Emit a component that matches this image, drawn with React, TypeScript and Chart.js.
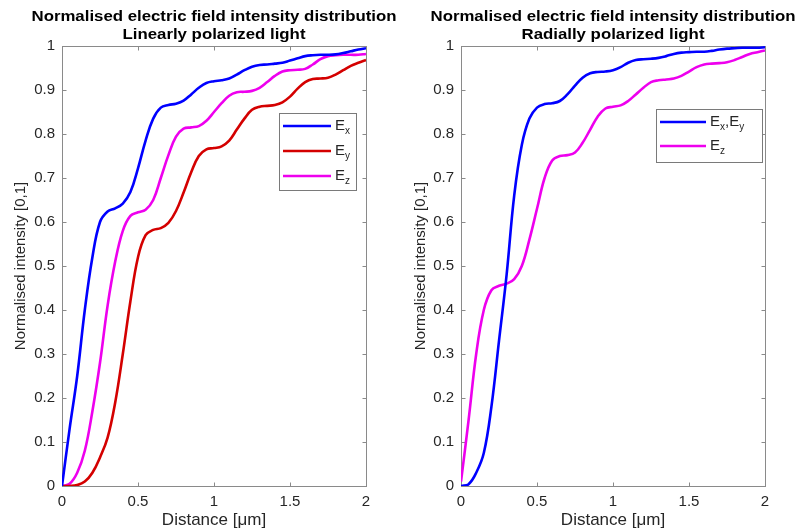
import React, { useEffect, useRef } from 'react';
import { Chart, registerables } from 'chart.js';
Chart.register(...registerables);

// ---------- data ----------
const distance = [
  0, 0.05, 0.1, 0.15, 0.2, 0.25, 0.3, 0.35, 0.4, 0.45,
  0.5, 0.55, 0.6, 0.65, 0.7, 0.75, 0.8, 0.85, 0.9, 0.95,
  1.0, 1.05, 1.1, 1.15, 1.2, 1.25, 1.3, 1.35, 1.4, 1.45,
  1.5, 1.55, 1.6, 1.65, 1.7, 1.75, 1.8, 1.85, 1.9, 1.95, 2.0,
];

// Linearly polarized light
const linearEx = [
  0, 0.13, 0.25, 0.4, 0.52, 0.6, 0.624, 0.631, 0.642, 0.668,
  0.722, 0.785, 0.835, 0.86, 0.866, 0.869, 0.876, 0.89, 0.905, 0.916,
  0.92, 0.922, 0.926, 0.935, 0.945, 0.953, 0.957, 0.958, 0.96, 0.962,
  0.967, 0.972, 0.977, 0.979, 0.98, 0.98, 0.981, 0.984, 0.988, 0.992, 0.995,
];
const linearEy = [
  0, 0, 0.002, 0.01, 0.03, 0.065, 0.11, 0.19, 0.3, 0.42,
  0.52, 0.57, 0.582, 0.586, 0.598, 0.625, 0.667, 0.713, 0.75, 0.765,
  0.768, 0.772, 0.785, 0.81, 0.835, 0.855, 0.862, 0.864, 0.866, 0.872,
  0.885, 0.903, 0.918, 0.925, 0.926, 0.928, 0.935, 0.945, 0.955, 0.962, 0.968,
];
const linearEz = [
  0, 0.005, 0.03, 0.08, 0.17, 0.28, 0.41, 0.51, 0.58, 0.614,
  0.622, 0.628, 0.65, 0.7, 0.752, 0.794, 0.812, 0.815, 0.818, 0.83,
  0.85, 0.87, 0.887, 0.895, 0.896, 0.898, 0.905, 0.918, 0.932, 0.942,
  0.945, 0.946, 0.948, 0.958, 0.97, 0.977, 0.979, 0.98, 0.98, 0.98, 0.982,
];

// Radially polarized light
const radialExEy = [
  0, 0.004, 0.03, 0.075, 0.18, 0.33, 0.48, 0.66, 0.775, 0.835,
  0.86, 0.868, 0.87, 0.875, 0.89, 0.91, 0.928, 0.938, 0.941, 0.942,
  0.945, 0.952, 0.962, 0.968, 0.97, 0.971, 0.973, 0.977, 0.982, 0.985,
  0.986, 0.987, 0.987, 0.989, 0.992, 0.994, 0.995, 0.996, 0.996, 0.996, 0.997,
];
const radialEz = [
  0.01, 0.15, 0.3, 0.4, 0.445, 0.455, 0.46, 0.47, 0.5, 0.56,
  0.63, 0.7, 0.74, 0.75, 0.752, 0.758, 0.78, 0.81, 0.84, 0.858,
  0.862, 0.865, 0.875, 0.89, 0.905, 0.918, 0.922, 0.924, 0.926, 0.932,
  0.942, 0.952, 0.958, 0.96, 0.961, 0.963, 0.968, 0.975, 0.982, 0.986, 0.99,
];

const titleLine1 = 'Normalised electric field intensity distribution';
const leftSubtitle = 'Linearly polarized light';
const rightSubtitle = 'Radially polarized light';
const xAxisTitle = 'Distance [\u03bcm]';
const yAxisTitle = 'Normalised intensity [0,1]';

type Seg = { t: string; sub?: boolean };
const legendEx: Seg[] = [{ t: 'E' }, { t: 'x', sub: true }];
const legendEy: Seg[] = [{ t: 'E' }, { t: 'y', sub: true }];
const legendEz: Seg[] = [{ t: 'E' }, { t: 'z', sub: true }];
const legendExEy: Seg[] = [{ t: 'E' }, { t: 'x', sub: true }, { t: ',E' }, { t: 'y', sub: true }];

const BLUE = '#0000ff';
const RED = '#d40000';
const MAGENTA = '#ee00ee';
const FONT = "'Liberation Sans', Arial, Helvetica, sans-serif";
const TEXT = '#262626';
const AXIS = '#8a8a8a';

const toPoints = (ys: number[]) => distance.map((x, i) => ({ x, y: ys[i] }));
const fmt = (v: any) => String(Number(v));

type LegendEntry = { color: string; label: Seg[] };
type PanelCfg = {
  width: number;
  subtitle: string;
  series: { color: string; values: number[]; label: string }[];
  legend: LegendEntry[];
  legendBox: { x: number; y: number; w: number; h: number };
  yWidth: number;
  padRight: number;
};

const boxPlugin = {
  id: 'matlabBox',
  beforeDatasetsDraw(chart: any) {
    const { ctx, chartArea: a, scales } = chart;
    ctx.save();
    ctx.strokeStyle = AXIS;
    ctx.lineWidth = 1;
    const L = Math.round(a.left) + 0.5;
    const R = Math.round(a.right) + 0.5;
    const T = Math.round(a.top) + 0.5;
    const B = Math.round(a.bottom) + 0.5;
    ctx.strokeRect(L, T, R - L, B - T);
    const tl = 4;
    ctx.beginPath();
    scales.x.ticks.forEach((t: any) => {
      const px = Math.round(scales.x.getPixelForValue(t.value)) + 0.5;
      ctx.moveTo(px, B); ctx.lineTo(px, B - tl);
      ctx.moveTo(px, T); ctx.lineTo(px, T + tl);
    });
    scales.y.ticks.forEach((t: any) => {
      const py = Math.round(scales.y.getPixelForValue(t.value)) + 0.5;
      ctx.moveTo(L, py); ctx.lineTo(L + tl, py);
      ctx.moveTo(R, py); ctx.lineTo(R - tl, py);
    });
    ctx.stroke();
    ctx.restore();
  },
  afterDraw(chart: any, _args: any, opts: any) {
    const { ctx, chartArea: a } = chart;
    ctx.save();
    // titles (slightly wide, as in the reference)
    const cx = (a.left + a.right) / 2;
    ctx.fillStyle = '#000';
    ctx.font = `bold 14px ${FONT}`;
    ctx.textAlign = 'center';
    ctx.textBaseline = 'middle';
    [[titleLine1, 17], [opts.subtitle, 35]].forEach(([txt, y]: any) => {
      ctx.save();
      ctx.translate(cx, y);
      ctx.scale(1.2, 1);
      ctx.fillText(txt, 0, 0);
      ctx.restore();
    });

    // legend
    const b = opts.legendBox;
    ctx.fillStyle = '#fff';
    ctx.fillRect(b.x, b.y, b.w, b.h);
    ctx.strokeStyle = '#7a7a7a';
    ctx.lineWidth = 1;
    ctx.strokeRect(b.x + 0.5, b.y + 0.5, b.w, b.h);
    const entries: LegendEntry[] = opts.entries;
    const rowH = opts.rowH;
    entries.forEach((e, i) => {
      const y = b.y + opts.firstRow + i * rowH;
      ctx.strokeStyle = e.color;
      ctx.lineWidth = 2.5;
      ctx.beginPath();
      ctx.moveTo(b.x + 4, y);
      ctx.lineTo(b.x + 4 + opts.lineLen, y);
      ctx.stroke();
      let tx = b.x + 4 + opts.lineLen + 4;
      ctx.fillStyle = TEXT;
      ctx.textAlign = 'left';
      ctx.textBaseline = 'middle';
      e.label.forEach((s) => {
        ctx.font = s.sub ? `10px ${FONT}` : `15px ${FONT}`;
        ctx.fillText(s.t, tx, s.sub ? y + 5 : y);
        tx += ctx.measureText(s.t).width;
      });
    });
    ctx.restore();
  },
};

function Panel({ cfg }: { cfg: PanelCfg }) {
  const ref = useRef<HTMLCanvasElement>(null);
  useEffect(() => {
    if (!ref.current) return;
    const chart = new Chart(ref.current, {
      type: 'line',
      data: {
        datasets: cfg.series.map((s) => ({
          label: s.label,
          data: toPoints(s.values),
          borderColor: s.color,
          backgroundColor: s.color,
          borderWidth: 2.6,
          pointRadius: 0,
          tension: 0.4,
          fill: false,
        })),
      },
      options: {
        responsive: false,
        animation: false,
        devicePixelRatio: 1,
        layout: { padding: { top: 46, left: 0, right: cfg.padRight, bottom: 0 } },
        plugins: {
          legend: { display: false },
          tooltip: { enabled: false },
          title: { display: false },
          matlabBox: {
            subtitle: cfg.subtitle,
            entries: cfg.legend,
            legendBox: cfg.legendBox,
            rowH: cfg.legend.length === 3 ? 25 : 24,
            firstRow: 13,
            lineLen: cfg.legend.length === 3 ? 48 : 46,
          },
        } as any,
        scales: {
          x: {
            type: 'linear',
            min: 0,
            max: 2,
            ticks: {
              stepSize: 0.5,
              padding: 7,
              color: TEXT,
              font: { family: FONT, size: 15 },
              maxRotation: 0,
              callback: fmt,
            },
            grid: { display: false, drawTicks: false },
            border: { display: false },
            title: {
              display: true,
              text: xAxisTitle,
              color: TEXT,
              font: { family: FONT, size: 17 },
              padding: { top: 0, bottom: 0 },
            },
            afterFit: (s: any) => { s.height = 45; },
          },
          y: {
            type: 'linear',
            min: 0,
            max: 1,
            ticks: {
              stepSize: 0.1,
              padding: 7,
              color: TEXT,
              font: { family: FONT, size: 15 },
              callback: fmt,
            },
            grid: { display: false, drawTicks: false },
            border: { display: false },
            title: {
              display: true,
              text: yAxisTitle,
              color: TEXT,
              font: { family: FONT, size: 15 },
              padding: { top: 12, bottom: 0 },
            },
            afterFit: (s: any) => { s.width = cfg.yWidth; },
          },
        },
      },
      plugins: [boxPlugin],
    });
    return () => chart.destroy();
  }, [cfg]);
  return (
    <canvas
      ref={ref}
      width={cfg.width}
      height={531}
      style={{ display: 'block', width: cfg.width, height: 531 }}
    />
  );
}

const leftCfg: PanelCfg = {
  width: 400,
  subtitle: leftSubtitle,
  series: [
    { color: BLUE, values: linearEx, label: 'Ex' },
    { color: RED, values: linearEy, label: 'Ey' },
    { color: MAGENTA, values: linearEz, label: 'Ez' },
  ],
  legend: [
    { color: BLUE, label: legendEx },
    { color: RED, label: legendEy },
    { color: MAGENTA, label: legendEz },
  ],
  legendBox: { x: 279, y: 113, w: 77, h: 77 },
  yWidth: 62,
  padRight: 34,
};

const rightCfg: PanelCfg = {
  width: 403,
  subtitle: rightSubtitle,
  series: [
    { color: BLUE, values: radialExEy, label: 'Ex,Ey' },
    { color: MAGENTA, values: radialEz, label: 'Ez' },
  ],
  legend: [
    { color: BLUE, label: legendExEy },
    { color: MAGENTA, label: legendEz },
  ],
  legendBox: { x: 256, y: 109, w: 106, h: 53 },
  yWidth: 61,
  padRight: 38,
};

export default function App() {
  return (
    <div
      style={{
        position: 'fixed',
        left: 0,
        top: 0,
        width: 803,
        height: 531,
        background: '#fff',
        display: 'flex',
        flexDirection: 'row',
      }}
    >
      <Panel cfg={leftCfg} />
      <Panel cfg={rightCfg} />
    </div>
  );
}
